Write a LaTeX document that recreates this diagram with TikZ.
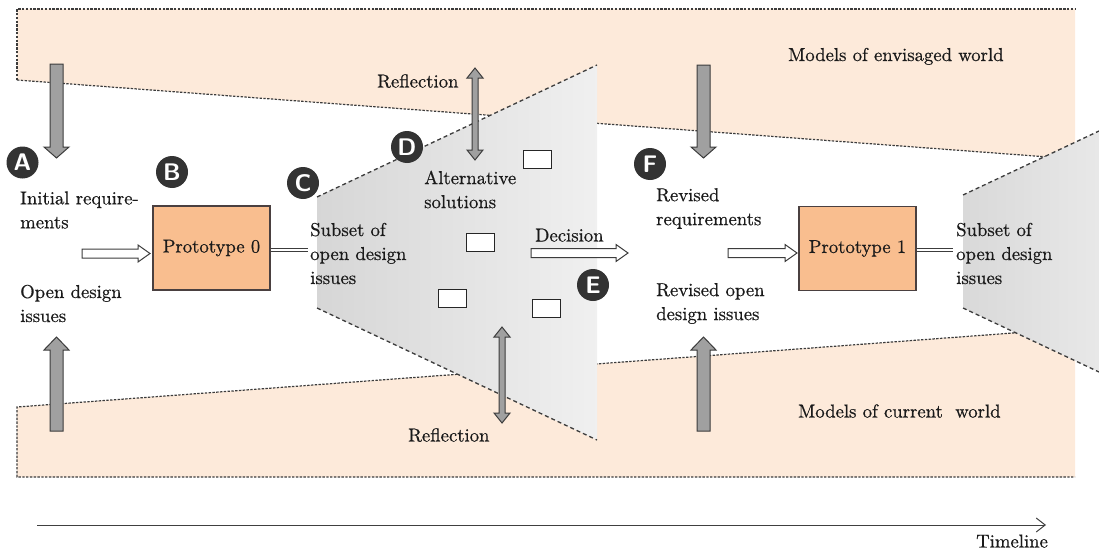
\documentclass[tikz,border=0pt]{standalone}
\usepackage{fontspec}
\newfontfamily\txtfont{lmroman10-regular.otf}[FakeBold=0.6]
\usetikzlibrary{arrows.meta,calc}
\definecolor{peach}{HTML}{FDEADA}
\definecolor{protofill}{HTML}{F9BE8F}
\definecolor{protoline}{HTML}{4A4040}
\definecolor{garrowfill}{HTML}{A0A0A0}
\definecolor{darkline}{HTML}{3C3C3C}
\definecolor{circfill}{HTML}{333333}
\definecolor{txtcol}{HTML}{1A1A1A}
\newcommand\garrowdown[3]{%
  \draw[garrow] ({#1-6.5},#2) -- ({#1+6.5},#2) -- ({#1+6.5},{#3-11}) -- ({#1+12.5},{#3-11}) -- (#1,#3) -- ({#1-12.5},{#3-11}) -- ({#1-6.5},{#3-11}) -- cycle;}
\newcommand\garrowup[3]{%
  \draw[garrow] ({#1-6.5},#2) -- ({#1+6.5},#2) -- ({#1+6.5},{#3+13}) -- ({#1+12.5},{#3+13}) -- (#1,#3) -- ({#1-12.5},{#3+13}) -- ({#1-6.5},{#3+13}) -- cycle;}
\newcommand\hollowarrow[3]{%
  \draw[harrow] (#1,{#3-4.5}) -- ({#2-12},{#3-4.5}) -- ({#2-12},{#3-8.5}) -- (#2,#3) -- ({#2-12},{#3+8.5}) -- ({#2-12},{#3+4.5}) -- (#1,{#3+4.5}) -- cycle;}
\newcommand\reflarrow[3]{%
  \draw[garrow] (#1,#2) -- ({#1+8},{#2+10}) -- ({#1+3},{#2+10}) -- ({#1+3},{#3-10}) -- ({#1+8},{#3-10}) -- (#1,#3) -- ({#1-8},{#3-10}) -- ({#1-3},{#3-10}) -- ({#1-3},{#2+10}) -- ({#1-8},{#2+10}) -- cycle;}
\begin{document}
\begin{tikzpicture}[x=1pt,y=-1pt,
  txt/.style={inner sep=0pt, text=txtcol, font=\txtfont\fontsize{18.7}{24}\selectfont},
  bandline/.style={draw=darkline, line width=1.2pt, dash pattern=on 2.4pt off 1.4pt},
  trapline/.style={draw=darkline, line width=1.3pt, dash pattern=on 4pt off 3pt},
  proto/.style={draw=protoline, fill=protofill, line width=1.3pt, minimum width=117pt, minimum height=84pt, inner sep=0pt, font=\txtfont\fontsize{18.7}{24}\selectfont, text=txtcol},
  minirect/.style={draw=black!85, fill=white, line width=0.9pt, minimum width=28pt, minimum height=18pt, inner sep=0pt},
  circ/.style={circle, fill=circfill, minimum size=32pt, inner sep=0pt, text=white, font=\sffamily\bfseries\fontsize{24}{24}\selectfont},
  garrow/.style={fill=garrowfill, draw=darkline, line width=1pt},
  harrow/.style={fill=white, draw=darkline, line width=1pt},
  dbl/.style={draw=darkline, double=white, double distance=2.6pt, line width=0.8pt}
]
\useasboundingbox (0,0) rectangle (1099,551);
% bands
\fill[peach] (17,9) -- (1075,9) -- (1075,159) -- (17,80) -- cycle;
\draw[bandline] (17,80) -- (17,9) -- (1075,9);
\draw[bandline] (17,80) -- (1075,159);
\fill[peach] (17,407) -- (1075,328.4) -- (1075,477) -- (17,477) -- cycle;
\draw[bandline] (1075,328.4) -- (17,407) -- (17,477) -- (1075,477);
% trapezoids
\shade[left color=black!16, right color=black!6] (317,197) -- (597,65) -- (597,440) -- (317,308) -- cycle;
\draw[trapline] (317,197) -- (597,65);
\draw[trapline] (317,308) -- (597,440);
\shade[left color=black!15, right color=black!9] (963,195) -- (1099,131) -- (1099,372) -- (963,308) -- cycle;
\draw[trapline] (963,195) -- (1099,131);
\draw[trapline] (963,308) -- (1099,372);
% gray block arrows
\garrowdown{56.5}{64}{158}
\garrowup{56.5}{431}{337}
\garrowdown{703.5}{65}{158}
\garrowup{703.5}{431}{337}
\reflarrow{475}{68}{160}
\reflarrow{502}{327}{423}
% prototypes
\node[proto] (p0) at (211.5,248) {Prototype 0};
\node[proto] (p1) at (857.5,248.5) {Prototype 1};
% small rectangles
\node[minirect] (r1) at (537,159) {};
\node[minirect] (r2) at (480.5,242.5) {};
\node[minirect] (r3) at (452.5,298.5) {};
\node[minirect] (r4) at (546.5,308.5) {};
% circles
\node[circ] (cA) at (22.5,162.5) {A};
\node[circ] (cB) at (172,172) {B};
\node[circ] (cC) at (303,183) {C};
\node[circ] (cD) at (407,147) {D};
\node[circ] (cE) at (593,285) {E};
\node[circ] (cF) at (650,164) {F};
% texts
\node[txt, anchor=west, align=left] (initreq) at (20,210) {Initial require-\\ments};
\node[txt, anchor=west, align=left] (openiss) at (20,303.5) {Open design\\issues};
\node[txt, anchor=west, align=left] (subset0) at (310,253.5) {Subset of\\open design\\issues};
\node[txt, anchor=west, align=left] (altsol) at (424,189.5) {Alternative\\solutions};
\node[txt, anchor=base west] (decision) at (535,241.5) {Decision};
\node[txt, anchor=base west] (refl1) at (377,87.5) {Reflection};
\node[txt, anchor=base west] (refl2) at (408,441.5) {Reflection};
\node[txt, anchor=west, align=left] (revreq) at (656,208.5) {Revised\\requirements};
\node[txt, anchor=west, align=left] (reviss) at (656,303.5) {Revised open\\design issues};
\node[txt, anchor=west, align=left] (subset1) at (956,253.5) {Subset of\\open design\\issues};
\node[txt, anchor=base west] (envis) at (788,61) {Models of envisaged world};
\node[txt, anchor=base west] (curr) at (798,417.5) {Models of current\ \ world};
\node[txt, anchor=base west] (timeline) at (976,547.5) {Timeline};
% hollow arrows
\hollowarrow{82}{150}{253.5}
\hollowarrow{531}{628}{253}
\hollowarrow{728}{797}{253}
% double lines
\coordinate (c0) at (308,250);
\coordinate (c1) at (953,250);
\draw[dbl] (p0.east |- c0) -- (c0);
\draw[dbl] (p1.east |- c1) -- (c1);
% timeline
\coordinate (t0) at (37,525);
\coordinate (t1) at (1046,525);
\draw[draw=black!75, line width=1pt, -{Straight Barb[length=9pt,width=14pt]}] (t0) -- (t1);
\end{tikzpicture}
\end{document}
